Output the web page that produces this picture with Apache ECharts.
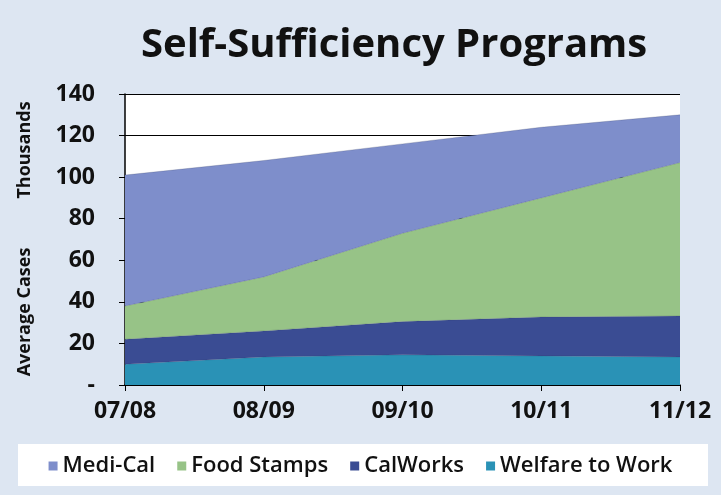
<!DOCTYPE html>
<html>
<head>
<meta charset="utf-8">
<script src="https://cdn.jsdelivr.net/npm/echarts@6/dist/echarts.min.js"></script>
<style>
  html, body { margin: 0; padding: 0; background: #dde6f2; }
  #main { width: 721px; height: 495px; }
</style>
</head>
<body>
<div id="main"></div>
<script>
// fiscal years on the x axis
var years = ['07/08', '08/09', '09/10', '10/11', '11/12'];
// average cases in thousands, per program (stacked)
var welfareToWork = [10, 13.5, 14.5, 14, 13.5];
var calWorks = [12, 12.5, 16, 18.7, 19.7];
var foodStamps = [16, 26, 42.5, 57.3, 73.8];
var mediCal = [63, 56, 43, 34, 23];

var chart = echarts.init(document.getElementById('main'));

function areaSeries(name, data, color) {
  return {
    name: name,
    type: 'line',
    stack: 'cases',
    data: data,
    symbol: 'none',
    lineStyle: { width: 0.6, color: 'rgba(40,50,80,0.35)' },
    itemStyle: { color: color },
    areaStyle: { color: color, opacity: 1 }
  };
}

var option = {
  backgroundColor: '#dde6f2',
  animation: false,
  textStyle: { fontFamily: 'Open Sans' },
  title: {
    text: 'Self-Sufficiency Programs',
    left: 136,
    top: 21,
    textStyle: { fontSize: 40, fontWeight: 'bold', color: '#111', fontFamily: 'Open Sans' }
  },
  grid: { left: 125, right: 41, top: 94, bottom: 110, show: true, backgroundColor: '#fff', borderWidth: 0 },
  legend: {
    top: 450,
    left: 'center',
    itemWidth: 9,
    itemHeight: 9,
    itemGap: 22,
    icon: 'rect',
    textStyle: { fontSize: 22, color: '#111', fontFamily: 'Open Sans', fontWeight: 600 },
    data: ['Medi-Cal', 'Food Stamps', 'CalWorks', 'Welfare to Work']
  },
  xAxis: {
    type: 'category',
    data: years,
    boundaryGap: false,
    axisLine: { lineStyle: { color: '#000', width: 1.5 } },
    axisTick: { show: true, length: 6, lineStyle: { color: '#000' } },
    axisLabel: { fontSize: 23, fontWeight: 'bold', color: '#111', margin: 15 }
  },
  yAxis: {
    type: 'value',
    min: 0,
    max: 140,
    interval: 20,
    axisLine: { show: true, lineStyle: { color: '#000', width: 1.5 } },
    axisTick: { show: true, length: 6, lineStyle: { color: '#000' } },
    splitLine: { lineStyle: { color: '#000', width: 1.2 } },
    axisLabel: {
      fontSize: 23, fontWeight: 'bold', color: '#111', margin: 30,
      formatter: function (v) { return v === 0 ? '-' : v; }
    }
  },
  graphic: [
    {
      type: 'rect', z: -1, silent: true,
      shape: { x: 18, y: 444, width: 690, height: 42 },
      style: { fill: '#fff' }
    },
    {
      type: 'text', x: 25, y: 312, rotation: Math.PI / 2,
      style: { text: 'Average Cases', font: 'bold 18px "Open Sans"', fill: '#111', textAlign: 'center', textVerticalAlign: 'middle' }
    },
    {
      type: 'text', x: 25, y: 150, rotation: Math.PI / 2,
      style: { text: 'Thousands', font: 'bold 18px "Open Sans"', fill: '#111', textAlign: 'center', textVerticalAlign: 'middle' }
    }
  ],
  series: [
    areaSeries('Welfare to Work', welfareToWork, '#2a92b6'),
    areaSeries('CalWorks', calWorks, '#3a4c93'),
    areaSeries('Food Stamps', foodStamps, '#97c387'),
    areaSeries('Medi-Cal', mediCal, '#7e8ecb')
  ]
};

chart.setOption(option);
</script>
</body>
</html>
